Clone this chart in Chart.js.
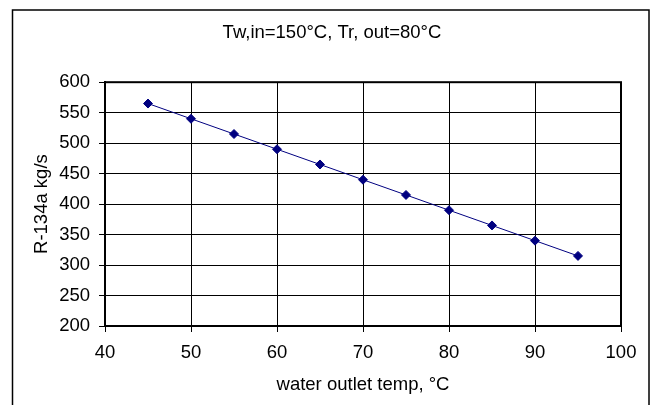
<!DOCTYPE html>
<html>
<head>
<meta charset="utf-8">
<script src="https://cdn.jsdelivr.net/npm/chart.js@4/dist/chart.umd.min.js"></script>
<style>
  html, body { margin: 0; padding: 0; background: #fff; }
  canvas { display: block; }
</style>
</head>
<body>
<canvas id="chart" width="652" height="405"></canvas>
<script>
const outletTemp = [45, 50, 55, 60, 65, 70, 75, 80, 85, 90, 95];
const flowRate = [565, 540, 515, 490, 465, 440, 415, 390, 365, 340, 315];
const chartTitle = 'Tw,in=150°C, Tr, out=80°C';
const xTitle = 'water outlet temp, °C';
const yTitle = 'R-134a kg/s';

const font = { family: '"Liberation Sans", Arial, sans-serif', size: 18.5 };

// outer frame and the closed plot-area box
const frames = {
  id: 'frames',
  afterDraw(c) {
    const ctx = c.ctx, a = c.chartArea;
    ctx.save();
    ctx.strokeStyle = '#000';
    ctx.lineWidth = 1.5;
    ctx.strokeRect(12.5, 10, 636.5, 400);
    ctx.lineWidth = 2;
    ctx.strokeRect(a.left, a.top, a.right - a.left, a.bottom - a.top);
    ctx.restore();
  }
};

new Chart(document.getElementById('chart'), {
  type: 'scatter',
  data: {
    datasets: [{
      data: outletTemp.map((x, i) => ({ x: x, y: flowRate[i] })),
      showLine: true,
      borderColor: '#000080',
      backgroundColor: '#000080',
      borderWidth: 1,
      pointStyle: 'rectRot',
      pointRadius: 4.5,
      pointHoverRadius: 4.5
    }]
  },
  plugins: [frames],
  options: {
    responsive: false,
    devicePixelRatio: 1,
    animation: false,
    layout: { padding: { left: 12, right: 0, top: 0, bottom: 0 } },
    plugins: {
      legend: { display: false },
      tooltip: { enabled: false },
      title: {
        display: true,
        text: chartTitle,
        color: '#000',
        font: { family: font.family, size: 18.5, weight: 'normal' },
        padding: { top: 22, bottom: 38 }
      }
    },
    scales: {
      x: {
        type: 'linear',
        min: 40, max: 100,
        afterFit(s) { s.height = 79; },
        ticks: { stepSize: 10, color: '#000', font: font, padding: 10, maxRotation: 0 },
        grid: { color: '#000', lineWidth: 1, tickLength: 6 },
        border: { color: '#000', width: 2 },
        title: { display: true, text: xTitle, color: '#000', font: font, padding: { top: 0, bottom: 9 } }
      },
      y: {
        min: 200, max: 600,
        afterFit(s) { s.width = 93; },
        ticks: { stepSize: 50, color: '#000', font: font, padding: 9 },
        grid: { color: '#000', lineWidth: 1, tickLength: 6 },
        border: { color: '#000', width: 2 },
        title: { display: true, text: yTitle, color: '#000', font: font, padding: { top: 19, bottom: 0 } }
      },
      gap: {
        position: 'right',
        afterFit(s) { s.width = 31; },
        ticks: { display: false },
        grid: { display: false },
        border: { display: false }
      }
    }
  }
});
</script>
</body>
</html>
